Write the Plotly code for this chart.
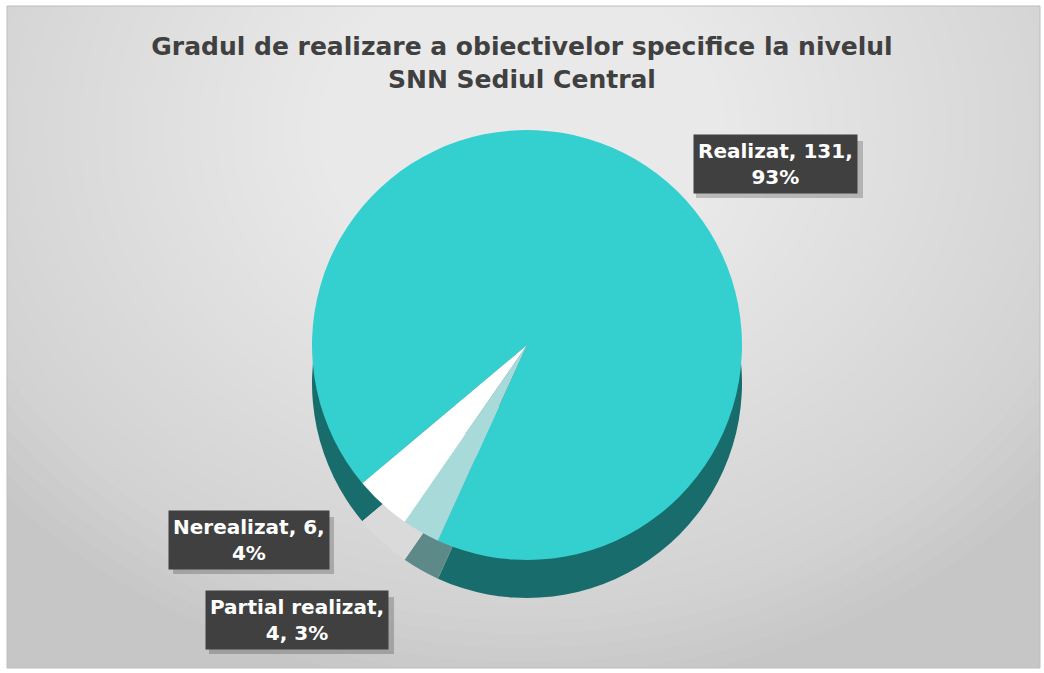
import plotly.graph_objects as go

# ---- data ----
categories = ["Realizat", "Partial realizat", "Nerealizat"]
values = [131, 4, 6]
percents = ["93%", "3%", "4%"]
title_text = "Gradul de realizare a obiectivelor specifice la nivelul<br>SNN Sediul Central"

# ---- styles ----
W, H = 1044, 673
top_colors = ["#34CFCF", "#A8DADA", "#FFFFFF"]
side_colors = ["#196C6C", "#5E8989", "#DADADA"]
rotation = 230

cx, cy, r, depth = 527, 345, 215, 38

def dom(cx, cy, r):
    return dict(x=[(cx - r) / W, (cx + r) / W], y=[1 - (cy + r) / H, 1 - (cy - r) / H])

fig = go.Figure()
# side (3D depth) layer
fig.add_trace(go.Pie(
    labels=categories, values=values, sort=False, direction="clockwise",
    rotation=rotation, marker=dict(colors=side_colors, line=dict(width=0)),
    textinfo="none", hoverinfo="skip", domain=dom(cx, cy + depth, r), showlegend=False))
# top face
fig.add_trace(go.Pie(
    labels=categories, values=values, sort=False, direction="clockwise",
    rotation=rotation, marker=dict(colors=top_colors, line=dict(width=0)),
    textinfo="none", domain=dom(cx, cy, r), showlegend=False))

# background: framed area with radial-ish gradient
shapes = [dict(type="rect", xref="paper", yref="paper", x0=7 / W, x1=1040 / W,
               y0=1 - 668 / H, y1=1 - 6 / H, fillcolor="#C6C6C6", line=dict(width=0), layer="below")]
gx, gy = 522, 130
n = 40
for i in range(n):
    rx = 680 * (1 - i / n)
    ry = 560 * (1 - i / n)
    shapes.append(dict(type="circle", xref="paper", yref="paper",
                       x0=(gx - rx) / W, x1=(gx + rx) / W,
                       y0=1 - (gy + ry) / H, y1=1 - (gy - ry) / H,
                       fillcolor="rgba(255,255,255,0.045)", line=dict(width=0), layer="below"))
# white margin cover outside frame
shapes += [
    dict(type="rect", xref="paper", yref="paper", x0=-0.2, x1=7 / W, y0=-0.2, y1=1.2, fillcolor="white", line=dict(width=0), layer="below"),
    dict(type="rect", xref="paper", yref="paper", x0=1040 / W, x1=1.2, y0=-0.2, y1=1.2, fillcolor="white", line=dict(width=0), layer="below"),
    dict(type="rect", xref="paper", yref="paper", x0=-0.2, x1=1.2, y0=1 - 6 / H, y1=1.2, fillcolor="white", line=dict(width=0), layer="below"),
    dict(type="rect", xref="paper", yref="paper", x0=-0.2, x1=1.2, y0=-0.2, y1=1 - 668 / H, fillcolor="white", line=dict(width=0), layer="below"),
    dict(type="rect", xref="paper", yref="paper", x0=7 / W, x1=1040 / W,
         y0=1 - 668 / H, y1=1 - 6 / H, fillcolor="rgba(0,0,0,0)", line=dict(color="#BDBDBD", width=1), layer="below"),
]

# data labels
label_texts = [
    f"{categories[0]}, {values[0]},<br>{percents[0]}",
    f"{categories[1]},<br>{values[1]}, {percents[1]}",
    f"{categories[2]}, {values[2]},<br>{percents[2]}",
]
label_pos = [(775, 164), (297, 620), (249, 540)]
label_box = [(166, 56), (184, 56), (160, 56)]
annotations = []
for txt, (px, py), (bw, bh) in zip(label_texts, label_pos, label_box):
    # soft shadow behind the label box
    shapes.append(dict(type="rect", xref="paper", yref="paper",
                       x0=(px - bw / 2 + 4) / W, x1=(px + bw / 2 + 5) / W,
                       y0=1 - (py + bh / 2 + 6) / H, y1=1 - (py - bh / 2 + 5) / H,
                       fillcolor="rgba(0,0,0,0.2)", line=dict(width=0), layer="above"))
    annotations.append(dict(text=f"<b>{txt}</b>", x=px / W, y=1 - py / H, xref="paper", yref="paper",
                            showarrow=False, align="center", xanchor="center", yanchor="middle",
                            font=dict(family="DejaVu Sans", size=20, color="#FFFFFF"),
                            bgcolor="#404040", borderpad=4))

fig.update_layout(
    width=W, height=H,
    margin=dict(l=0, r=0, t=0, b=0),
    paper_bgcolor="white",
    title=dict(text=f"<b>{title_text}</b>", x=0.5, xanchor="center", y=1 - 55 / H, yanchor="middle",
               font=dict(family="DejaVu Sans", size=25, color="#404040")),
    shapes=shapes,
    annotations=annotations,
    showlegend=False,
)

fig.write_html("out.html", config={"displayModeBar": False},
               post_script="document.body.style.margin='0';document.body.style.overflow='hidden';")
